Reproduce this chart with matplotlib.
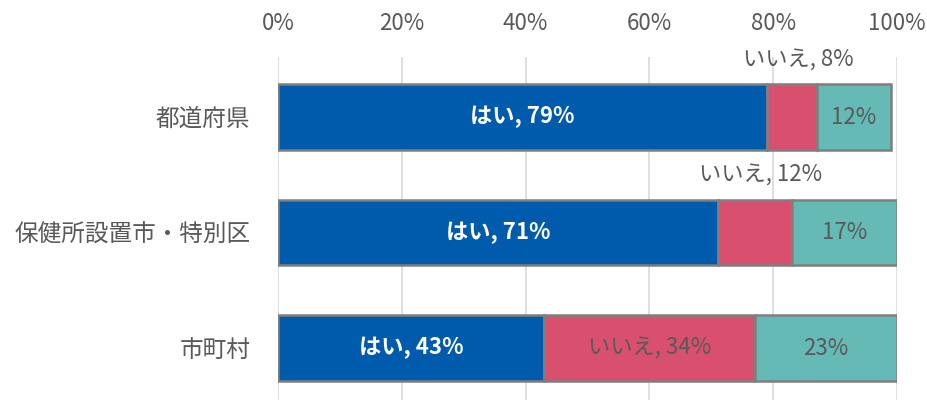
import matplotlib.pyplot as plt
import numpy as np

plt.rcParams['font.family'] = ['Noto Sans CJK JP', 'DejaVu Sans']

categories = ['都道府県', '保健所設置市・特別区', '市町村']
yes = [79, 71, 43]
no = [8, 12, 34]
other = [12, 17, 23]

c_yes = '#005BAC'
c_no = '#D94F6E'
c_other = '#66BAB6'
txt = '#595959'
fs = 16

fig = plt.figure(figsize=(9.28, 4.0), dpi=100)
ax = fig.add_axes([0.2996, 0.0, 0.667, 0.8575])

y = np.arange(len(categories))
h = 0.57
kw = dict(height=h, edgecolor='#7F7F7F', linewidth=1.8, zorder=3)
ax.barh(y, yes, color=c_yes, **kw)
ax.barh(y, no, left=yes, color=c_no, **kw)
left3 = np.array(yes) + np.array(no)
ax.barh(y, other, left=left3, color=c_other, **kw)

for i in range(len(categories)):
    ax.text(yes[i] / 2, y[i], f'はい, {yes[i]}%', ha='center', va='center',
            color='white', fontsize=fs, fontweight='bold', zorder=4)
    no_x = yes[i] + no[i] / 2
    if no[i] >= 20:
        ax.text(no_x, y[i], f'いいえ, {no[i]}%', ha='center', va='center',
                color=txt, fontsize=fs, zorder=4)
    else:
        # narrow segment: put the label above the bar
        ax.text(no_x + 1, y[i] - h / 2 - 0.21, f'いいえ, {no[i]}%', ha='center',
                va='center', color=txt, fontsize=fs, zorder=4)
    ax.text(left3[i] + other[i] / 2, y[i], f'{other[i]}%', ha='center',
            va='center', color=txt, fontsize=fs, zorder=4)

ax.set_xlim(0, 100)
ax.set_ylim(2.45, -0.52)
ax.set_xticks(np.arange(0, 101, 20))
ax.set_xticklabels([f'{v}%' for v in range(0, 101, 20)])
ax.xaxis.tick_top()
ax.set_yticks(y)
ax.set_yticklabels(categories)
ax.tick_params(axis='both', length=0, colors=txt, labelsize=fs)
ax.tick_params(axis='y', labelsize=17, pad=20)
ax.tick_params(axis='x', pad=16)
ax.grid(axis='x', color='#D9D9D9', linewidth=1.2, zorder=0)
for s in ax.spines.values():
    s.set_visible(False)

fig.savefig('out.png', dpi=100)
